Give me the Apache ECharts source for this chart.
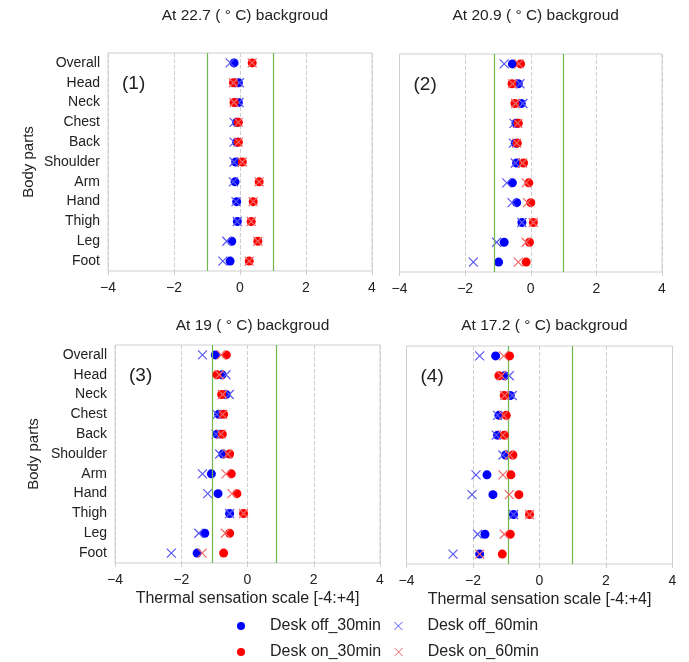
<!DOCTYPE html>
<html><head><meta charset="utf-8">
<script src="https://cdn.jsdelivr.net/npm/echarts@6/dist/echarts.min.js"></script>
<style>html,body{margin:0;padding:0;background:#fff}#c{width:689px;height:662px}</style>
</head><body><div id="c"></div>
<script>
const categories = ['Overall','Head','Neck','Chest','Back','Shoulder','Arm','Hand','Thigh','Leg','Foot'];
const xTicks = [-4,-2,0,2,4];
const titles = ['At 22.7 ( ° C) backgroud','At 20.9 ( ° C) backgroud','At 19 ( ° C) backgroud','At 17.2 ( ° C) backgroud'];
const panelTags = ['(1)','(2)','(3)','(4)'];
const seriesNames = ['Desk off_30min','Desk off_60min','Desk on_30min','Desk on_60min'];

const p1_off30 = [-0.18,-0.05,-0.05,-0.10,-0.10,-0.13,-0.15,-0.10,-0.08,-0.25,-0.30];
const p1_off60 = [-0.30,-0.02,-0.03,-0.18,-0.18,-0.18,-0.20,-0.12,-0.08,-0.40,-0.52];
const p1_on30  = [0.37,-0.20,-0.18,-0.05,-0.05,0.07,0.58,0.40,0.34,0.54,0.28];
const p1_on60  = [0.37,-0.20,-0.18,-0.05,-0.05,0.07,0.58,0.40,0.34,0.54,0.28];

const p2_off30 = [-0.56,-0.38,-0.29,-0.45,-0.47,-0.43,-0.56,-0.43,-0.27,-0.81,-0.98];
const p2_off60 = [-0.81,-0.33,-0.24,-0.51,-0.53,-0.47,-0.73,-0.57,-0.27,-1.04,-1.75];
const p2_on30  = [-0.31,-0.57,-0.48,-0.38,-0.41,-0.22,-0.06,0.00,0.08,-0.04,-0.14];
const p2_on60  = [-0.36,-0.55,-0.46,-0.40,-0.43,-0.25,-0.14,-0.10,0.08,-0.14,-0.38];

const p3_off30 = [-0.97,-0.77,-0.65,-0.87,-0.92,-0.74,-1.09,-0.89,-0.54,-1.29,-1.52];
const p3_off60 = [-1.36,-0.65,-0.55,-0.92,-0.95,-0.84,-1.36,-1.20,-0.54,-1.47,-2.30];
const p3_on30  = [-0.64,-0.92,-0.78,-0.72,-0.76,-0.54,-0.49,-0.32,-0.12,-0.54,-0.72];
const p3_on60  = [-0.79,-0.85,-0.75,-0.75,-0.80,-0.60,-0.65,-0.47,-0.12,-0.67,-1.37];

const p4_off30 = [-1.32,-1.05,-0.88,-1.22,-1.26,-1.02,-1.58,-1.40,-0.78,-1.64,-1.80];
const p4_off60 = [-1.80,-0.91,-0.82,-1.26,-1.30,-1.10,-1.91,-2.03,-0.78,-1.86,-2.60];
const p4_on30  = [-0.90,-1.22,-1.06,-1.00,-1.06,-0.80,-0.86,-0.62,-0.30,-0.88,-1.12];
const p4_on60  = [-1.08,-1.15,-1.05,-1.08,-1.10,-0.90,-1.10,-0.91,-0.30,-1.06,-1.80];

const greenLines = [[-1,1],[-1.1,1],[-1.05,0.87],[-0.93,0.97]];

const panels = [
  [p1_off30,p1_off60,p1_on30,p1_on60],
  [p2_off30,p2_off60,p2_on30,p2_on60],
  [p3_off30,p3_off60,p3_on30,p3_on60],
  [p4_off30,p4_off60,p4_on30,p4_on60]
];

const FONT = '"Liberation Sans", Arial, sans-serif';
const grids = [
  {left:108, top:53, width:264, height:218},
  {left:399.5, top:54, width:262.5, height:218},
  {left:115, top:345, width:265, height:218},
  {left:406.5, top:346, width:266, height:218}
];
const yNameGap = [72, 0, 74, 0];
const XSYM = 'path://M0,0L10,10M10,0L0,10';
const styles = [
  {symbol:'circle', size:9, itemStyle:{color:'#0000ff', opacity:1}},
  {symbol:XSYM, size:9, itemStyle:{color:'transparent', borderColor:'#5858f2', borderWidth:1.2, opacity:1}},
  {symbol:'circle', size:9, itemStyle:{color:'#ff0000', opacity:1}},
  {symbol:XSYM, size:9, itemStyle:{color:'transparent', borderColor:'#f06868', borderWidth:1.2, opacity:1}}
];
const tickFmt = v => (v < 0 ? '\u2212' + Math.abs(v) : String(v));

const legendItem = (i) => ({
  name: seriesNames[i],
  itemStyle: (i % 2 === 1) ? {borderWidth:1, color:'transparent'} : undefined
});

const option = {
  animation:false,
  backgroundColor:'#fff',
  textStyle:{fontFamily:FONT},
  title: titles.map((t,i)=>({
    text:t, left: grids[i].left + grids[i].width/2, top: (i<2? 3 : 313), textAlign:'center',
    textStyle:{fontSize:15.5, fontWeight:'normal', color:'#222', fontFamily:FONT}
  })),
  grid: grids.map(g=>Object.assign({show:true, borderColor:'#cfcfcf', borderWidth:1, containLabel:false}, g)),
  xAxis: grids.map((g,i)=>({
    gridIndex:i, type:'value', min:-4, max:4, interval:2,
    name: i>=2 ? 'Thermal sensation scale [-4:+4]' : '',
    nameLocation:'middle', nameGap:28,
    nameTextStyle:{fontSize:16, color:'#222', fontFamily:FONT},
    axisLine:{show:false},
    axisTick:{show:true, length:4, lineStyle:{color:'#cfcfcf'}},
    axisLabel:{fontSize:14, color:'#222', margin:10, fontFamily:FONT, formatter:tickFmt},
    splitLine:{show:true, lineStyle:{color:'#cfcfcf', type:'dashed'}}
  })),
  yAxis: grids.map((g,i)=>({
    gridIndex:i, type:'category', data:categories, inverse:true,
    name: (i===0||i===2) ? 'Body parts' : '',
    nameLocation:'middle', nameGap:yNameGap[i], nameRotate:90,
    nameTextStyle:{fontSize:15, color:'#222', fontFamily:FONT},
    axisLine:{show:false}, axisTick:{show:false}, splitLine:{show:false},
    axisLabel:{show:(i===0||i===2), fontSize:14, color:'#222', margin:8, fontFamily:FONT}
  })),
  legend: [
    {data:[legendItem(0),legendItem(1)], left:232, top:613, itemWidth:8, itemHeight:8, itemGap:13,
     textStyle:{fontSize:16, color:'#222', fontFamily:FONT, padding:[0,0,0,20]}},
    {data:[legendItem(2),legendItem(3)], left:232, top:639, itemWidth:8, itemHeight:8, itemGap:13,
     textStyle:{fontSize:16, color:'#222', fontFamily:FONT, padding:[0,0,0,20]}}
  ],
  graphic: panelTags.map((t,i)=>({
    type:'text', left: grids[i].left + 14, top: grids[i].top + 21,
    style:{text:t, fontSize:19, fill:'#222', fontFamily:FONT}
  })),
  series: []
};

panels.forEach((arrs,pi)=>{
  arrs.forEach((vals,si)=>{
    const st = styles[si];
    const s = {
      name: seriesNames[si], type:'scatter', xAxisIndex:pi, yAxisIndex:pi,
      symbol: st.symbol, symbolSize: st.size, itemStyle: st.itemStyle,
      data: vals.map((v,k)=>[v, categories[k]]), z: 3+si
    };
    if (si===0) {
      s.markLine = {silent:true, symbol:'none', label:{show:false},
        lineStyle:{color:'#72b74e', type:'solid', width:1.2},
        data: greenLines[pi].map(x=>({xAxis:x}))};
    }
    option.series.push(s);
  });
});

const chart = echarts.init(document.getElementById('c'), null, {renderer:'canvas'});
chart.setOption(option);
</script></body></html>
